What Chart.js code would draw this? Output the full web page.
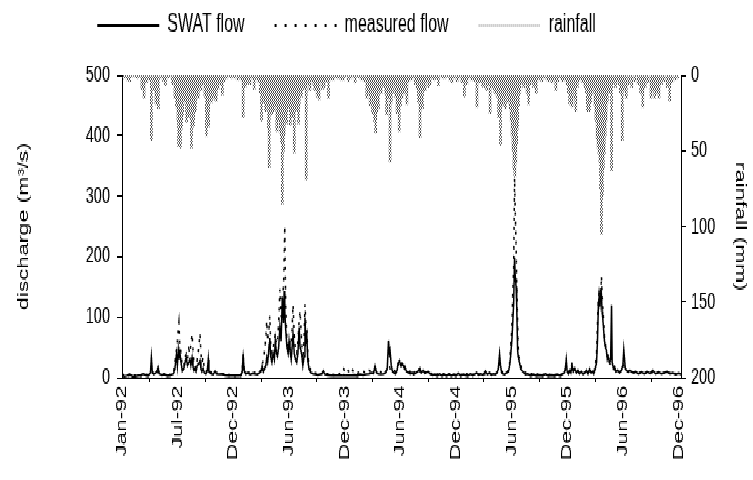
<!DOCTYPE html>
<html>
<head>
<meta charset="utf-8">
<script src="https://cdn.jsdelivr.net/npm/chart.js@4.4.1/dist/chart.umd.min.js"></script>
<style>
  html, body { margin: 0; padding: 0; background: #fff; }
  #chart { display: block; image-rendering: pixelated; }
</style>
</head>
<body>
<!-- drawn at 753x300 and shown stretched to 480 tall, like the original picture -->
<canvas id="chart" width="753" height="300" style="width:753px;height:480px"></canvas>
<script>
// days counted from 1 Jan 1992
const tickDays = [0, 182, 364, 546, 728, 910, 1092, 1274, 1456, 1638, 1820];
const tickLabels = ['Jan-92', 'Jul-92', 'Dec-92', 'Jun-93', 'Dec-93', 'Jun-94', 'Dec-94', 'Jun-95', 'Dec-95', 'Jun-96', 'Dec-96'];

const rainDays = [5, 12, 17, 25, 34, 43, 50, 58, 65, 72, 80, 88, 96, 105, 111, 119, 129, 136, 142, 149, 156, 165, 173, 178, 183, 185, 191, 195, 198, 202, 206, 211, 215, 218, 223, 227, 231, 234, 237, 240, 245, 249, 253, 258, 261, 265, 271, 276, 280, 283, 287, 292, 296, 301, 304, 308, 314, 321, 328, 334, 342, 351, 357, 363, 369, 379, 384, 391, 396, 402, 406, 410, 418, 425, 432, 440, 448, 452, 456, 460, 463, 466, 469, 473, 476, 479, 481, 485, 489, 492, 496, 499, 502, 506, 510, 513, 517, 521, 524, 528, 530, 534, 538, 543, 546, 550, 553, 556, 560, 563, 567, 571, 574, 577, 579, 583, 587, 594, 602, 607, 614, 621, 627, 630, 634, 638, 644, 650, 655, 661, 668, 675, 682, 691, 697, 702, 709, 716, 724, 730, 740, 748, 755, 762, 769, 776, 783, 792, 800, 803, 807, 811, 815, 819, 822, 825, 829, 833, 838, 843, 847, 851, 856, 862, 865, 871, 876, 880, 884, 889, 894, 899, 902, 906, 910, 915, 919, 923, 927, 931, 937, 945, 951, 959, 965, 969, 972, 974, 978, 982, 986, 991, 996, 1002, 1007, 1014, 1021, 1027, 1034, 1043, 1049, 1056, 1063, 1071, 1078, 1086, 1095, 1102, 1111, 1115, 1119, 1122, 1127, 1134, 1142, 1149, 1155, 1160, 1165, 1170, 1178, 1182, 1187, 1192, 1196, 1203, 1208, 1215, 1219, 1222, 1226, 1231, 1237, 1240, 1243, 1246, 1249, 1253, 1259, 1262, 1266, 1269, 1272, 1275, 1278, 1281, 1284, 1287, 1290, 1293, 1296, 1300, 1305, 1313, 1319, 1324, 1329, 1334, 1340, 1345, 1350, 1354, 1361, 1367, 1372, 1380, 1389, 1395, 1401, 1405, 1412, 1418, 1424, 1432, 1439, 1444, 1449, 1455, 1459, 1463, 1466, 1471, 1475, 1480, 1483, 1488, 1492, 1499, 1506, 1513, 1518, 1521, 1525, 1528, 1532, 1537, 1541, 1546, 1549, 1553, 1556, 1559, 1562, 1564, 1567, 1570, 1573, 1576, 1579, 1582, 1586, 1590, 1595, 1600, 1605, 1613, 1618, 1624, 1629, 1635, 1639, 1648, 1657, 1666, 1676, 1687, 1695, 1702, 1710, 1719, 1729, 1735, 1741, 1748, 1755, 1763, 1772, 1782, 1790, 1797, 1807, 1816];
const rainMm = [2, 1, 3, 4, 1, 1, 2, 1, 9, 15, 5, 3, 43, 10, 19, 22, 2, 4, 7, 2, 1, 6, 15, 21, 30, 47, 48, 35, 26, 12, 18, 31, 20, 28, 18, 48, 25, 34, 16, 24, 12, 15, 8, 10, 4, 6, 14, 40, 22, 34, 12, 18, 15, 10, 16, 17, 9, 6, 13, 4, 2, 1, 2, 1, 2, 3, 2, 3, 28, 8, 3, 6, 6, 2, 9, 3, 5, 12, 30, 14, 18, 10, 24, 15, 20, 35, 61, 22, 26, 18, 24, 15, 20, 37, 22, 30, 38, 45, 85, 50, 40, 28, 32, 22, 14, 33, 20, 28, 18, 51, 22, 24, 14, 32, 20, 10, 14, 9, 69, 6, 10, 4, 7, 10, 6, 14, 16, 5, 9, 8, 4, 15, 3, 3, 1, 2, 2, 3, 3, 1, 4, 2, 1, 5, 1, 2, 3, 4, 15, 9, 12, 20, 14, 25, 18, 30, 38, 24, 22, 10, 12, 6, 8, 12, 26, 15, 57, 18, 12, 6, 14, 25, 18, 37, 20, 15, 9, 12, 8, 19, 4, 3, 2, 6, 9, 18, 12, 41, 15, 22, 10, 10, 4, 8, 6, 2, 3, 2, 7, 1, 2, 2, 1, 3, 5, 2, 4, 2, 5, 3, 14, 4, 6, 2, 3, 3, 4, 21, 5, 5, 7, 8, 3, 10, 6, 25, 8, 9, 12, 7, 14, 28, 46, 20, 20, 12, 15, 22, 12, 18, 14, 22, 30, 40, 50, 62, 67, 58, 45, 35, 20, 12, 6, 8, 5, 12, 19, 6, 4, 8, 6, 12, 3, 2, 4, 2, 3, 4, 2, 5, 3, 10, 4, 2, 4, 3, 3, 6, 12, 19, 9, 21, 10, 15, 24, 8, 4, 3, 5, 8, 12, 24, 15, 24, 18, 12, 8, 20, 30, 42, 48, 52, 58, 75, 105, 80, 62, 52, 40, 30, 18, 10, 12, 63, 6, 8, 4, 6, 12, 43, 10, 15, 6, 8, 4, 6, 12, 21, 8, 5, 15, 10, 15, 12, 15, 6, 4, 8, 17, 5, 3, 2];

const flowDays = [0, 8, 15, 25, 34, 43, 53, 62, 69, 77, 86, 93, 96, 99, 104, 111, 115, 118, 122, 130, 139, 149, 159, 168, 173, 178, 181, 184, 186, 189, 193, 197, 202, 207, 210, 214, 218, 222, 225, 229, 232, 235, 238, 242, 246, 250, 255, 258, 261, 265, 269, 274, 279, 282, 284, 288, 293, 298, 304, 309, 317, 327, 336, 346, 357, 369, 381, 389, 393, 396, 399, 404, 411, 419, 428, 434, 442, 450, 456, 458, 462, 466, 470, 473, 476, 479, 481, 483, 486, 490, 494, 498, 501, 505, 508, 512, 516, 520, 524, 528, 530, 532, 535, 539, 543, 546, 549, 553, 556, 559, 563, 567, 571, 575, 579, 582, 587, 591, 595, 598, 601, 604, 607, 611, 617, 625, 632, 640, 648, 654, 658, 663, 673, 684, 696, 707, 719, 725, 730, 737, 744, 751, 759, 769, 778, 788, 798, 807, 815, 822, 827, 832, 838, 846, 855, 862, 867, 871, 874, 876, 880, 884, 889, 894, 899, 903, 907, 911, 915, 919, 923, 925, 930, 937, 942, 948, 953, 961, 967, 971, 974, 978, 984, 990, 996, 1001, 1007, 1015, 1023, 1030, 1038, 1046, 1053, 1061, 1069, 1076, 1084, 1092, 1099, 1107, 1115, 1122, 1130, 1138, 1146, 1153, 1159, 1165, 1172, 1180, 1188, 1194, 1201, 1207, 1213, 1220, 1226, 1230, 1234, 1237, 1241, 1245, 1251, 1257, 1263, 1267, 1270, 1274, 1277, 1280, 1283, 1285, 1288, 1290, 1293, 1295, 1299, 1303, 1307, 1313, 1319, 1326, 1336, 1345, 1355, 1365, 1374, 1384, 1393, 1403, 1413, 1422, 1432, 1440, 1446, 1449, 1452, 1455, 1459, 1464, 1467, 1471, 1475, 1480, 1485, 1490, 1495, 1501, 1507, 1513, 1518, 1523, 1528, 1533, 1538, 1542, 1547, 1551, 1554, 1557, 1559, 1562, 1564, 1565, 1567, 1569, 1571, 1574, 1577, 1580, 1583, 1586, 1589, 1593, 1597, 1600, 1602, 1606, 1610, 1614, 1620, 1626, 1632, 1637, 1640, 1645, 1652, 1660, 1670, 1679, 1688, 1698, 1707, 1716, 1726, 1735, 1744, 1754, 1763, 1772, 1782, 1791, 1800, 1810, 1819, 1827];
const swatFlow = [3, 2, 3, 5, 2, 2, 3, 4, 6, 4, 3, 8, 33, 10, 5, 8, 12, 17, 6, 4, 5, 3, 4, 6, 15, 39, 20, 45, 30, 42, 25, 11, 15, 28, 33, 20, 25, 30, 20, 33, 18, 12, 15, 10, 20, 22, 28, 15, 10, 15, 8, 6, 12, 30, 10, 8, 6, 5, 11, 6, 5, 6, 4, 3, 3, 3, 3, 4, 10, 39, 12, 6, 8, 5, 7, 6, 5, 8, 12, 19, 10, 15, 20, 33, 25, 40, 55, 66, 35, 25, 40, 30, 61, 40, 35, 50, 83, 60, 132, 90, 143, 110, 80, 50, 40, 61, 45, 30, 50, 72, 40, 30, 25, 40, 83, 50, 40, 20, 35, 99, 60, 70, 30, 15, 8, 6, 5, 4, 5, 7, 11, 5, 4, 3, 3, 3, 3, 4, 3, 3, 3, 3, 4, 3, 5, 4, 5, 6, 8, 7, 19, 8, 6, 5, 6, 8, 15, 61, 40, 45, 20, 10, 8, 6, 12, 25, 28, 20, 24, 20, 15, 18, 10, 8, 6, 8, 5, 8, 10, 14, 15, 8, 12, 7, 9, 10, 6, 4, 5, 3, 6, 3, 5, 3, 6, 3, 5, 3, 7, 3, 5, 4, 3, 6, 4, 5, 8, 4, 6, 4, 11, 5, 8, 4, 6, 5, 8, 15, 39, 20, 8, 6, 5, 8, 10, 20, 35, 60, 90, 121, 199, 170, 150, 120, 45, 35, 25, 15, 12, 8, 5, 6, 3, 5, 3, 4, 3, 6, 3, 4, 3, 5, 3, 6, 8, 15, 30, 10, 6, 12, 8, 20, 10, 15, 8, 12, 6, 10, 5, 8, 12, 6, 14, 8, 10, 6, 15, 25, 60, 120, 132, 118, 138, 125, 135, 110, 100, 80, 60, 50, 45, 30, 35, 25, 30, 120, 25, 15, 18, 10, 12, 8, 12, 20, 46, 15, 10, 12, 8, 10, 6, 9, 6, 10, 7, 12, 6, 9, 6, 8, 10, 6, 8, 5, 7, 5];
const measuredFlow = [4, 4, 3, 4, 3, 3, 3, 3, 4, 5, 4, 5, 6, 8, 6, 7, 8, 9, 8, 6, 5, 5, 4, 8, 25, 45, 60, 80, 91, 55, 40, 18, 20, 35, 39, 30, 47, 40, 55, 72, 45, 25, 20, 15, 30, 45, 72, 40, 25, 33, 15, 10, 12, 15, 12, 10, 8, 8, 8, 7, 7, 6, 5, 4, 4, 3, 3, 4, 12, 33, 15, 10, 8, 8, 9, 8, 7, 10, 15, 20, 30, 45, 65, 94, 60, 75, 85, 102, 55, 40, 50, 60, 72, 55, 60, 90, 146, 100, 138, 150, 200, 251, 120, 60, 50, 55, 40, 60, 80, 121, 70, 45, 40, 60, 95, 110, 60, 30, 60, 121, 90, 85, 40, 20, 12, 9, 7, 6, 6, 6, 7, 6, 6, 5, 4, 5, 8, 14, 9, 13, 8, 14, 9, 7, 9, 10, 8, 12, 10, 12, 14, 11, 10, 9, 8, 10, 15, 20, 18, 15, 12, 10, 12, 10, 15, 22, 25, 18, 20, 25, 16, 15, 12, 10, 10, 14, 8, 10, 11, 12, 10, 9, 10, 9, 8, 8, 7, 6, 6, 5, 5, 5, 6, 5, 5, 4, 5, 4, 5, 4, 5, 6, 5, 4, 4, 5, 6, 5, 6, 5, 6, 6, 7, 6, 7, 6, 8, 12, 30, 15, 10, 8, 7, 8, 12, 25, 50, 80, 140, 180, 330, 280, 220, 160, 90, 50, 30, 20, 14, 10, 8, 7, 6, 6, 5, 5, 4, 5, 4, 5, 4, 4, 4, 5, 8, 12, 18, 12, 10, 10, 14, 25, 12, 10, 9, 10, 8, 9, 7, 8, 10, 9, 12, 10, 12, 9, 20, 40, 90, 130, 140, 125, 150, 135, 168, 140, 120, 95, 65, 55, 45, 35, 30, 25, 22, 20, 18, 16, 14, 12, 10, 10, 10, 15, 20, 12, 10, 9, 8, 9, 8, 8, 7, 8, 7, 9, 7, 8, 7, 7, 8, 7, 7, 6, 6, 6];

const legendNames = ['SWAT flow', 'measured flow', 'rainfall'];

const ctx = document.getElementById('chart').getContext('2d');

// grey dot fill like the spreadsheet pattern
function dotPattern() {
  const c = document.createElement('canvas');
  c.width = 2;
  c.height = 2;
  const g = c.getContext('2d');
  g.fillStyle = '#505050';
  g.fillRect(0, 0, 1, 1);
  g.fillRect(1, 1, 1, 1);
  return ctx.createPattern(c, 'repeat');
}

const font = { family: "'Liberation Sans', Arial, sans-serif", size: 14.5 };
const legendFont = { family: "'Liberation Sans', Arial, sans-serif", size: 16 };

// fixed legend height, and the legend drawn a bit left/up like the original
const legendPlace = {
  id: 'legendPlace',
  beforeInit(chart) {
    const legend = chart.legend;
    const fit = legend.fit;
    legend.fit = function () {
      fit.call(this);
      this.height = 47;
    };
    const draw = legend.draw;
    legend.draw = function () {
      const c = this.ctx;
      c.save();
      c.translate(-30, -22);
      draw.apply(this, arguments);
      c.restore();
    };
  }
};

new Chart(ctx, {
  type: 'bar',
  plugins: [legendPlace],
  data: {
    datasets: [{
      type: 'line',
      label: 'SWAT flow',
      data: flowDays.map((d, i) => ({ x: d, y: swatFlow[i] })),
      borderColor: '#000',
      borderWidth: 1.5,
      pointRadius: 0,
      tension: 0,
      yAxisID: 'y'
    }, {
      type: 'line',
      label: 'measured flow',
      data: flowDays.map((d, i) => ({ x: d, y: measuredFlow[i] })),
      borderColor: '#000',
      borderWidth: 1.5,
      borderDash: [2, 4],
      pointRadius: 0,
      tension: 0,
      yAxisID: 'y'
    }, {
      type: 'bar',
      label: 'rainfall',
      data: rainDays.map((d, i) => ({ x: d, y: rainMm[i] })),
      backgroundColor: dotPattern(),
      borderWidth: 0,
      barThickness: 2,
      yAxisID: 'y2'
    }]
  },
  options: {
    responsive: false,
    devicePixelRatio: 1,
    animation: false,
    layout: { padding: 0 },
    plugins: {
      tooltip: { enabled: false },
      legend: {
        position: 'top',
        labels: {
          color: '#000',
          font: legendFont,
          usePointStyle: true,
          pointStyleWidth: 62,
          padding: 30,
          generateLabels: () => legendNames.map((name, i) => ({
            text: name,
            datasetIndex: i,
            pointStyle: 'line',
            strokeStyle: i === 2 ? '#666' : '#000',
            fillStyle: 'transparent',
            lineWidth: i === 2 ? 1 : 2,
            lineDash: i === 0 ? [] : (i === 1 ? [2, 8] : [1, 1]),
            hidden: false
          }))
        }
      }
    },
    scales: {
      x: {
        type: 'linear',
        min: 0,
        max: 1827,
        offset: false,
        afterBuildTicks: axis => { axis.ticks = tickDays.map(v => ({ value: v })); },
        afterFit: s => { s.height = 64; },
        ticks: {
          color: '#000',
          font: font,
          minRotation: 90,
          maxRotation: 90,
          autoSkip: false,
          padding: 2,
          callback: v => tickLabels[tickDays.indexOf(v)]
        },
        grid: { drawOnChartArea: false, drawTicks: true, tickLength: 3, color: '#000' },
        border: { color: '#000', width: 1 }
      },
      y: {
        position: 'left',
        min: 0,
        max: 500,
        afterFit: s => { s.width = 122; },
        ticks: { stepSize: 100, color: '#000', font: font, padding: 7 },
        grid: { drawOnChartArea: false, tickLength: 5, color: '#000' },
        border: { color: '#000', width: 1 },
        title: { display: true, text: 'discharge (m³/s)', color: '#000', font: font, padding: { top: 15, bottom: 0 } }
      },
      y2: {
        position: 'right',
        min: 0,
        max: 200,
        reverse: true,
        afterFit: s => { s.width = 72; },
        ticks: { stepSize: 50, color: '#000', font: font, padding: 5 },
        grid: { drawOnChartArea: false, tickLength: 5, color: '#000' },
        border: { color: '#000', width: 1 },
        title: { display: true, text: 'rainfall (mm)', color: '#000', font: font, padding: { top: 4, bottom: 0 } }
      }
    }
  }
});
</script>
</body>
</html>
